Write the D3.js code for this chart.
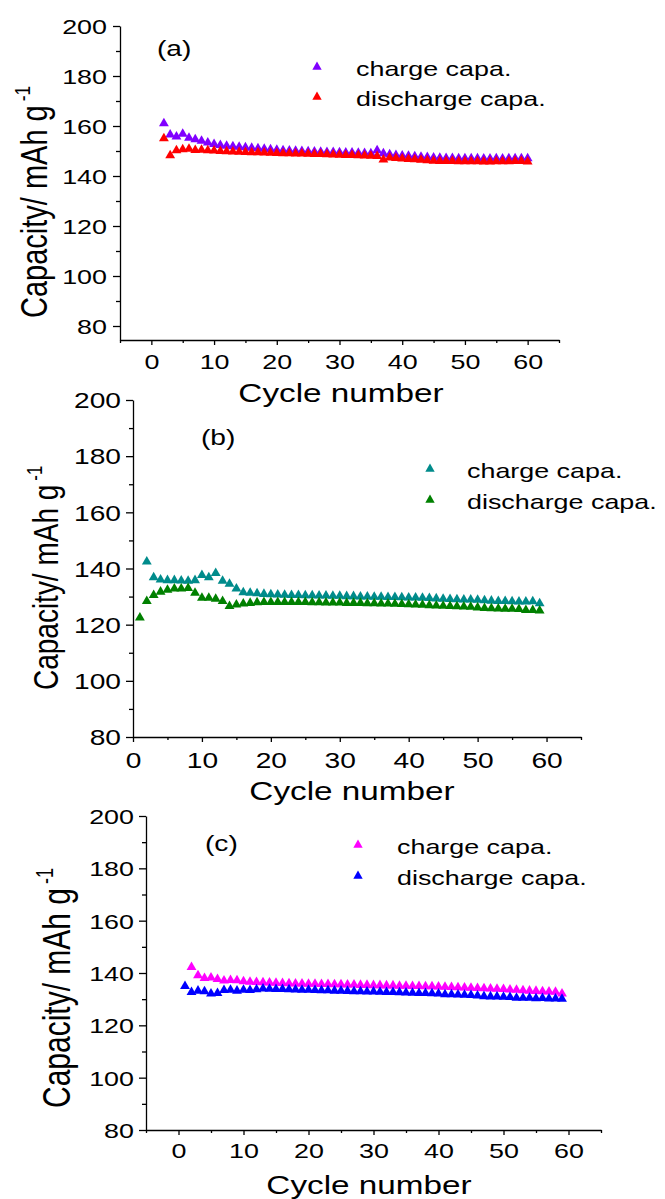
<!DOCTYPE html>
<html>
<head>
<meta charset="utf-8">
<script src="https://cdn.jsdelivr.net/npm/d3@7"></script>
<style>
  body { margin: 0; background: #fff; }
  svg { display: block; font-family: "Liberation Sans", Arial, sans-serif; }
</style>
</head>
<body>
<div id="chart"></div>
<script>
// values, one value per cycle
const startA = 2;
const chargeA = [161, 156.5, 155.7, 156.8, 155.2, 154.6, 154, 153.3, 152.7, 152.3, 152, 151.8, 151.6, 151.4, 151.2, 151, 150.8, 150.6, 150.4, 150.2,
  150.1, 150, 149.9, 149.8, 149.7, 149.6, 149.5, 149.5, 149.4, 149.3, 149.3, 149.2, 149.1, 149, 150.2, 149, 148.6, 148.3, 148.1, 148,
  147.8, 147.6, 147.5, 147.3, 147.2, 147.1, 147.1, 147, 147, 147, 147, 146.9, 146.9, 147, 146.9, 147, 147, 147, 147];
const dischargeA = [155, 148.2, 150.2, 150.6, 150.8, 150.3, 150.4, 150.2, 150.1, 149.9, 149.8, 149.7, 149.6, 149.5, 149.4, 149.4, 149.3, 149.2, 149.1, 149,
  149, 148.9, 148.9, 148.8, 148.7, 148.7, 148.6, 148.5, 148.4, 148.3, 148.3, 148.2, 148.1, 148, 147.9, 146.5, 147.3, 147.1, 146.9, 146.7,
  146.6, 146.4, 146.2, 146, 145.9, 145.9, 145.9, 145.8, 145.8, 145.8, 145.8, 145.7, 145.7, 145.8, 145.8, 145.8, 145.9, 145.9, 145.7];

const startChargeB = 2;
const chargeB = [142.4, 136.8, 136, 135.8, 135.8, 135.7, 135.6, 135.8, 137.6, 136.8, 138.3, 135.6, 134.5, 132.8, 131.5, 131.3, 131.1, 130.9, 130.8,
  130.7, 130.6, 130.5, 130.5, 130.4, 130.4, 130.3, 130.3, 130.2, 130.2, 130.1, 130.1, 130, 130, 129.9, 129.9, 129.8, 129.8, 129.7, 129.6,
  129.6, 129.5, 129.4, 129.3, 129.2, 129.1, 129, 128.9, 128.9, 128.8, 128.6, 128.5, 128.4, 128.4, 128.3, 128.2, 128.2, 128.3, 127.6];
const startDischargeB = 1;
const dischargeB = [122.5, 128.4, 130.5, 131.7, 132.4, 132.8, 132.8, 133, 131.3, 129.5, 129.5, 129.2, 128.4, 126.6, 127.1, 127.5, 127.7, 127.9, 128, 128,
  128, 128, 128, 128, 128, 127.9, 127.9, 127.8, 127.8, 127.8, 127.7, 127.7, 127.7, 127.6, 127.6, 127.5, 127.5, 127.4, 127.3, 127.2,
  127.1, 127, 126.9, 126.8, 126.7, 126.6, 126.5, 126.4, 126.3, 126.1, 125.9, 125.8, 125.7, 125.6, 125.6, 125.5, 125.2, 125.2, 125];

const startChargeC = 2;
const chargeC = [142.2, 139.1, 138, 138.2, 137.6, 137.1, 137.3, 137.2, 136.8, 136.6, 136.5, 136.4, 136.3, 136.2, 136.1, 136, 135.9, 135.9, 135.8,
  135.8, 135.7, 135.7, 135.6, 135.6, 135.5, 135.5, 135.4, 135.4, 135.3, 135.3, 135.2, 135.2, 135.1, 135.1, 135, 135, 134.9, 134.9, 134.8,
  134.7, 134.6, 134.5, 134.4, 134.3, 134.2, 134.1, 134, 133.9, 133.8, 133.6, 133.5, 133.3, 133.2, 133.1, 133, 132.9, 132.8, 132.1];
const startDischargeC = 1;
const dischargeC = [135, 132.7, 133.2, 133, 132.1, 132.3, 133.4, 133.5, 133.2, 133.5, 133.4, 133.7, 134, 133.9, 133.8, 133.8, 133.7, 133.6, 133.5, 133.5,
  133.4, 133.3, 133.3, 133.2, 133.2, 133.1, 133, 133, 132.9, 132.9, 132.8, 132.7, 132.7, 132.6, 132.5, 132.4, 132.3, 132.3, 132.2, 132.1,
  131.8, 131.8, 131.7, 131.6, 131.5, 131.3, 131.1, 131, 131, 130.9, 130.8, 130.5, 130.5, 130.5, 130.3, 130.4, 130.2, 130.2, 130.1];

const legendLabels = ["charge capa.", "discharge capa."];
const xMajorTicks = [0, 10, 20, 30, 40, 50, 60];
const yMajorTicks = [80, 100, 120, 140, 160, 180, 200];

const SX = 1.28; // the figure's text is drawn a little wide

const svg = d3.select("#chart").append("svg")
  .attr("width", 665)
  .attr("height", 1199);

function toPoints(values, start) {
  return values.map((v, i) => ({ cycle: start + i, value: v }));
}

function panel(p) {
  let x = d3.scaleLinear().domain(p.xDomain).range(p.xRange);
  let y = d3.scaleLinear().domain(p.yDomain).range(p.yRange);
  const g = svg.append("g");

  let xMinor = d3.range(p.xDomain[0] < 0 ? -5 : 5, 66, 10);
  let yMinor = [90, 110, 130, 150, 170, 190];

  // minor ticks
  g.append("g")
    .attr("transform", `translate(0,${p.yRange[0]})`)
    .call(d3.axisBottom(x).tickValues(xMinor).tickSize(3).tickFormat("").tickSizeOuter(0))
    .call(a => a.select(".domain").remove());
  g.append("g")
    .attr("transform", `translate(${p.xRange[0]},0)`)
    .call(d3.axisLeft(y).tickValues(yMinor).tickSize(4).tickFormat("").tickSizeOuter(0))
    .call(a => a.select(".domain").remove());

  const xa = g.append("g")
    .attr("transform", `translate(0,${p.yRange[0]})`)
    .call(d3.axisBottom(x).tickValues(xMajorTicks).tickSize(5).tickSizeOuter(0));
  xa.selectAll(".tick text")
    .attr("y", p.xLabelOffset).attr("dy", "0")
    .attr("transform", `scale(${SX},1)`);

  const ya = g.append("g")
    .attr("transform", `translate(${p.xRange[0]},0)`)
    .call(d3.axisLeft(y).tickValues(yMajorTicks).tickSize(7).tickSizeOuter(0));
  ya.selectAll(".tick text")
    .attr("x", -p.yLabelGap / SX).attr("dy", "0.35em")
    .attr("transform", `scale(${SX},1)`);

  for (let a of [xa, ya]) {
    a.attr("font-family", null).attr("font-size", p.tickFont);
    a.selectAll("text").attr("fill", "#000");
    a.selectAll("line, path").attr("stroke", "#000").attr("stroke-width", 1.3);
  }
  g.selectAll(".tick line").attr("stroke", "#000").attr("stroke-width", 1.3);

  const tri = d3.symbol().type(d3.symbolTriangle).size(42);
  p.series.forEach((s, i) => {
    g.append("g").selectAll("path")
      .data(toPoints(s.values, s.start))
      .join("path")
      .attr("transform", d => `translate(${x(d.cycle)},${y(d.value)})`)
      .attr("d", tri)
      .attr("fill", s.color);

    // legend
    g.append("path")
      .attr("transform", `translate(${p.legend.x},${p.legend.y + i * p.legend.step})`)
      .attr("d", d3.symbol().type(d3.symbolTriangle).size(38))
      .attr("fill", s.color);
    g.append("text")
      .attr("transform", `translate(${p.legend.tx},${p.legend.y + 9 + i * p.legend.step}) scale(${SX},1)`)
      .attr("font-size", 21)
      .text(legendLabels[i]);
  });

  g.append("text")
    .attr("transform", `translate(${p.tag.x},${p.tag.y}) scale(${SX},1)`)
    .attr("font-size", 22)
    .text(p.tag.text);

  g.append("text")
    .attr("text-anchor", "middle")
    .attr("transform", `translate(${p.xTitle.x},${p.xTitle.y}) scale(${SX},1)`)
    .attr("font-size", 26)
    .text("Cycle number");

  const yt = g.append("text")
    .attr("transform", `translate(${p.yTitle.x},${p.yTitle.y}) scale(${SX},1) rotate(-90)`)
    .attr("font-size", p.yTitle.size)
    .text("Capacity/ mAh g");
  yt.append("tspan")
    .attr("font-size", p.yTitle.size * 0.6)
    .attr("dx", 4)
    .attr("dy", -p.yTitle.size * 0.45)
    .text("-1");
}

panel({
  xDomain: [-5, 65], xRange: [120, 559],
  yDomain: [74.4, 200], yRange: [340, 26],
  xLabelOffset: 29, yLabelGap: 13, tickFont: 21,
  series: [
    { values: chargeA, start: startA, color: "#8000ff" },
    { values: dischargeA, start: startA, color: "#ff0000" }
  ],
  legend: { x: 317, y: 67, step: 30, tx: 356 },
  tag: { text: "(a)", x: 157, y: 56 },
  xTitle: { x: 341, y: 402 },
  yTitle: { x: 47, y: 318, size: 29 }
});

panel({
  xDomain: [0, 65], xRange: [133, 581],
  yDomain: [80, 200], yRange: [737, 400],
  xLabelOffset: 31, yLabelGap: 12, tickFont: 22,
  series: [
    { values: chargeB, start: startChargeB, color: "#008b8b" },
    { values: dischargeB, start: startDischargeB, color: "#008000" }
  ],
  legend: { x: 430, y: 469, step: 31, tx: 467 },
  tag: { text: "(b)", x: 201, y: 445 },
  xTitle: { x: 352, y: 800 },
  yTitle: { x: 58, y: 690, size: 28 }
});

panel({
  xDomain: [-5, 65], xRange: [146, 601],
  yDomain: [80, 200], yRange: [1130, 816],
  xLabelOffset: 28, yLabelGap: 12, tickFont: 21,
  series: [
    { values: chargeC, start: startChargeC, color: "#ff00ff" },
    { values: dischargeC, start: startDischargeC, color: "#0000ff" }
  ],
  legend: { x: 358, y: 845, step: 31, tx: 397 },
  tag: { text: "(c)", x: 205, y: 851 },
  xTitle: { x: 369, y: 1194 },
  yTitle: { x: 70, y: 1108, size: 30 }
});
</script>
</body>
</html>
